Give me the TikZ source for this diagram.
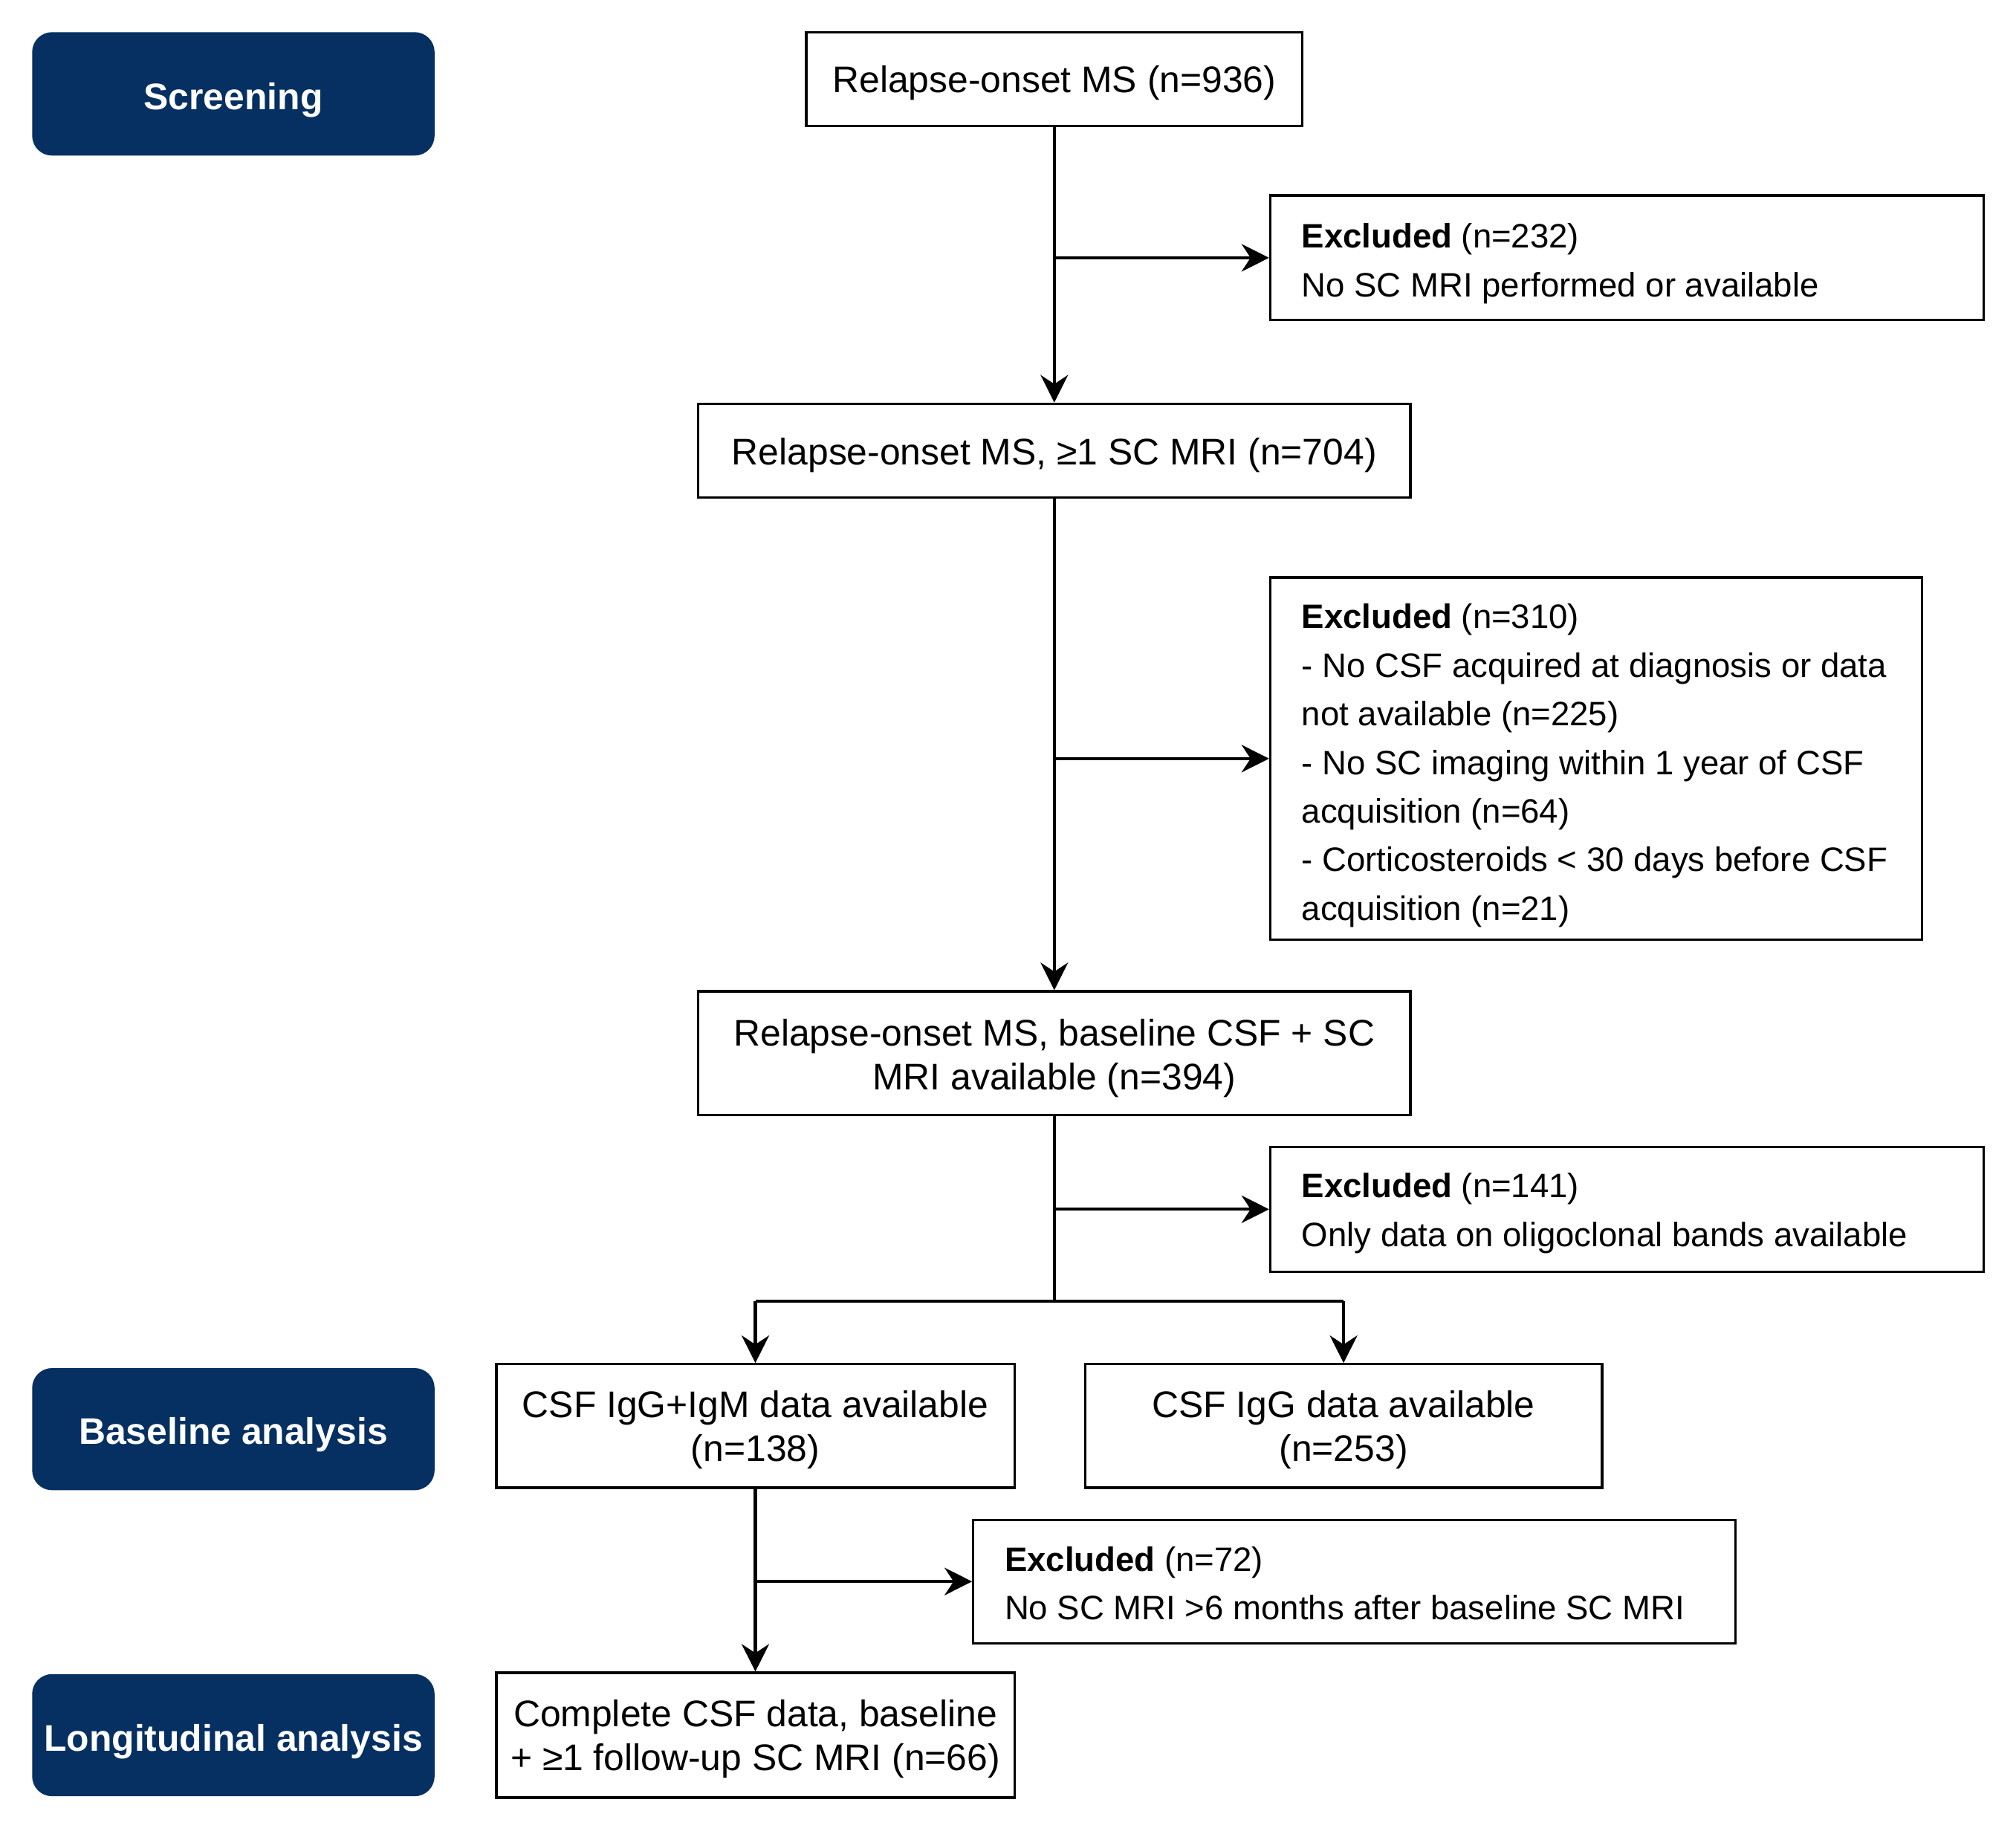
\documentclass[tikz,border=0pt]{standalone}
\usepackage{fontspec}
\setmainfont{Liberation Sans}
\usetikzlibrary{arrows.meta}
\definecolor{navy}{HTML}{053061}
\begin{document}
\begin{tikzpicture}[x=0.5pt,y=-0.5pt,
  frame/.style={draw, line width=0.95pt, rectangle, inner sep=0pt},
  boxtext/.style={inner sep=0pt, align=center, font=\fontsize{14.4pt}{17pt}\selectfont},
  excltext/.style={inner sep=0pt, align=left, anchor=west, font=\fontsize{13.16pt}{18.9pt}\selectfont},
  lane/.style={fill=navy, rounded corners=7.75pt, inner sep=0pt, minimum width=156.5pt},
  lanetext/.style={inner sep=0pt, text=white, font=\bfseries\fontsize{14.4pt}{17pt}\selectfont},
  conn/.style={line width=1.2pt},
  arr/.style={line width=1.2pt, -{Stealth[length=10.7pt,width=10.7pt,inset=3.5pt]}}]
\useasboundingbox (0,0) rectangle (1568,1426);

% lane labels
\node[lane, minimum height=48pt]   (lscr)  at (181.5,73)     {};
\node[lane, minimum height=47.5pt] (lbase) at (181.5,1111.5) {};
\node[lane, minimum height=47.5pt] (llong) at (181.5,1349.5) {};
\node[lanetext] (lscrt)  at ([yshift=-2.5pt]lscr.center)  {Screening};
\node[lanetext] (lbaset) at ([yshift=-2.2pt]lbase.center) {Baseline analysis};
\node[lanetext] (llongt) at ([yshift=-2.5pt]llong.center) {Longitudinal analysis};

% main boxes
\node[frame, minimum width=193pt, minimum height=36.5pt] (b1) at (820,61.5) {};
\node[frame, minimum width=277pt, minimum height=36.5pt] (b2) at (820,350.5) {};
\node[frame, minimum width=277pt, minimum height=48pt] (b3) at (820,819) {};
\node[frame, minimum width=201.5pt, minimum height=48pt] (b4) at (587.5,1109) {};
\node[frame, minimum width=201pt, minimum height=48pt] (b5) at (1045,1109) {};
\node[frame, minimum width=201.5pt, minimum height=48.5pt] (b6) at (587.5,1349.5) {};

\node[boxtext] (b1t) at ([yshift=-1.5pt]b1.center) {Relapse-onset MS (n=936)};
\node[boxtext] (b2t) at ([yshift=-1.8pt]b2.center) {Relapse-onset MS, ≥1 SC MRI (n=704)};
\node[boxtext] (b3t) at ([yshift=-2pt]b3.center) {Relapse-onset MS, baseline CSF + SC\\MRI available (n=394)};
\node[boxtext] (b4t) at ([yshift=-1.5pt]b4.center) {CSF IgG+IgM data available\\(n=138)};
\node[boxtext] (b5t) at ([yshift=-1.5pt]b5.center) {CSF IgG data available\\(n=253)};
\node[boxtext] (b6t) at ([yshift=-1.5pt]b6.center) {Complete CSF data, baseline\\+ ≥1 follow-up SC MRI (n=66)};

% exclusion boxes
\node[frame, minimum width=277.5pt, minimum height=48.5pt] (e1) at (1265.5,200.5) {};
\node[frame, minimum width=253.5pt, minimum height=141pt] (e2) at (1241.5,590) {};
\node[frame, minimum width=277.5pt, minimum height=48.5pt] (e3) at (1265.5,940.5) {};
\node[frame, minimum width=296.5pt, minimum height=48pt] (e4) at (1053.5,1230) {};

\node[excltext] (e1t) at ([xshift=12.5pt,yshift=-2.2pt]e1.west)
  {\textbf{Excluded} (n=232)\\No SC MRI performed or available};
\node[excltext] (e2t) at ([xshift=12.5pt,yshift=-2.75pt]e2.west)
  {\textbf{Excluded} (n=310)\\
   - No CSF acquired at diagnosis or data\\
   not available (n=225)\\
   - No SC imaging within 1 year of CSF\\
   acquisition (n=64)\\
   - Corticosteroids < 30 days before CSF\\
   acquisition (n=21)};
\node[excltext] (e3t) at ([xshift=12.5pt,yshift=-1.6pt]e3.west)
  {\textbf{Excluded} (n=141)\\Only data on oligoclonal bands available};
\node[excltext] (e4t) at ([xshift=12.5pt,yshift=-0.8pt]e4.west)
  {\textbf{Excluded} (n=72)\\No SC MRI >6 months after baseline SC MRI};

% connectors
\draw[arr] (b1.south) -- (b2.north);
\draw[arr] (b1.south |- e1.west) -- (e1.west);
\draw[arr] (b2.south) -- (b3.north);
\draw[arr] (b2.south |- e2.west) -- (e2.west);
\coordinate (split) at (820,1012);
\draw[conn] (b3.south) -- (split);
\draw[arr] (b3.south |- e3.west) -- (e3.west);
\draw[conn] (b4.north |- split) -- (b5.north |- split);
\draw[arr] (b4.north |- split) -- (b4.north);
\draw[arr] (b5.north |- split) -- (b5.north);
\draw[arr] (b4.south) -- (b6.north);
\draw[arr] (b4.south |- e4.west) -- (e4.west);
\end{tikzpicture}
\end{document}
